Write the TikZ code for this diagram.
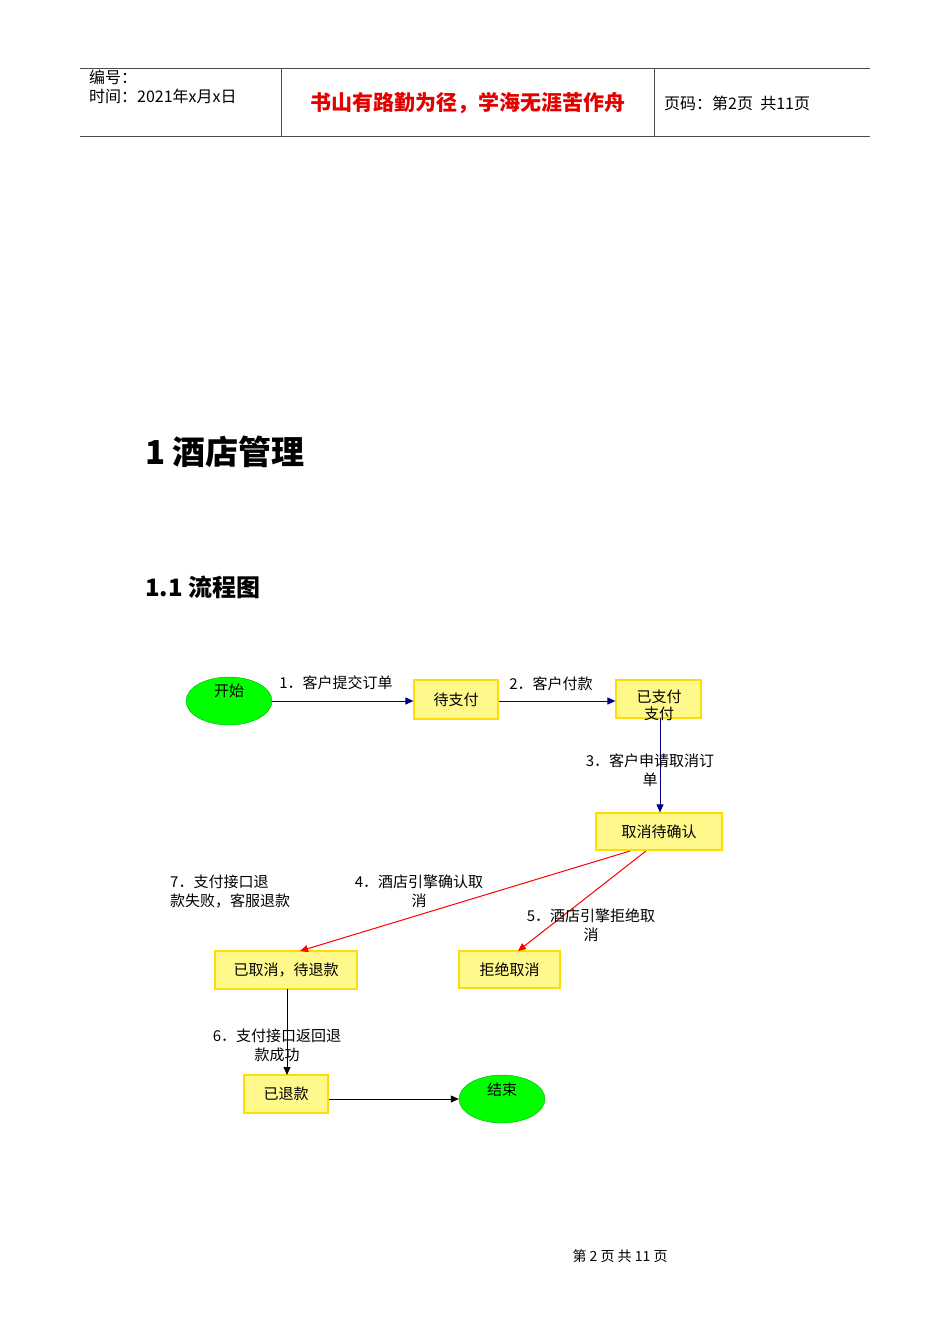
\documentclass[tikz,border=0pt]{standalone}
\usepackage{fontspec}
\setmainfont{Liberation Serif}
\newfontfamily\cjk{Noto Sans CJK SC}
\usetikzlibrary{shapes.geometric,arrows.meta}
\begin{document}
\begin{tikzpicture}[x=1pt,y=-1pt,
  st/.style={draw=yellow!80!orange,line width=1.2pt,fill=yellow!45,font=\cjk\fontsize{15}{17}\selectfont,inner sep=0pt},
  ov/.style={ellipse,fill=green,draw=green!70!black,minimum width=86pt,minimum height=48pt,inner sep=0pt},
  lb/.style={font=\cjk\fontsize{15}{19}\selectfont,align=center,inner sep=0pt},
  na/.style={draw=blue!50!black,line width=1pt,-{Triangle[length=8pt,width=7pt]}},
  ra/.style={draw=red,line width=1pt,-{Triangle[length=8pt,width=7pt]}},
  ba/.style={draw=black,line width=1pt,-{Triangle[length=8pt,width=7pt]}}]
\useasboundingbox (0,0) rectangle (950,1344);
\fill[white] (0,0) rectangle (950,1344);
% header
\draw[gray!60!black,line width=0.8pt] (80,68) -- (870,68);
\draw[gray!60!black,line width=1pt] (80,136) -- (870,136);
\draw[gray!60!black,line width=0.8pt] (281,68) -- (281,136) (654,68) -- (654,136);
\node[anchor=north west,align=left,font=\cjk\fontsize{16}{19}\selectfont,inner sep=0pt] (hd) at (89,70) {编号：\\时间：2021年x月x日};
\node[font=\cjk\bfseries\fontsize{21}{23}\selectfont,text=red!90!black] (motto) at (468,103) {书山有路勤为径，学海无涯苦作舟};
\node[anchor=west,font=\cjk\fontsize{16}{18}\selectfont,inner sep=0pt] (pg) at (664,103) {页码：第2页\ \ 共11页};
% titles
\node[anchor=west,font=\cjk\bfseries\fontsize{33}{36}\selectfont,inner sep=0pt] (t1) at (145,452) {1 酒店管理};
\node[anchor=west,font=\cjk\bfseries\fontsize{24}{26}\selectfont,inner sep=0pt] (t2) at (145,587) {1.1 流程图};
% nodes
\node[ov] (start) at (229,701) {};
\node[lb] at (229,691) {开始};
\node[st,minimum width=84pt,minimum height=39pt] (dzf) at (456,699.5) {待支付};
\node[st,minimum width=85pt,minimum height=38pt] (yzf) at (658.5,699) {};
\node[lb,font=\cjk\fontsize{15}{17}\selectfont] at (659,705) {已支付\\支付};
\node[st,minimum width=126pt,minimum height=37pt] (qx) at (659,831.5) {取消待确认};
\node[st,minimum width=142pt,minimum height=38pt] (yqx) at (286,970) {已取消，待退款};
\node[st,minimum width=101pt,minimum height=37pt] (jj) at (509.5,969.5) {拒绝取消};
\node[st,minimum width=84pt,minimum height=38pt] (ytk) at (286,1094) {已退款};
\node[ov] (end) at (502,1099) {};
\node[lb] at (502,1090) {结束};
% edges
\draw[na] (start.east |- 0,701) -- (dzf.west |- 0,701);
\draw[na] (dzf.east |- 0,701) -- (yzf.west |- 0,701);
\draw[na] (660,718) -- (qx.north -| 660,0);
\draw[ra] (630,851) -- (300,951);
\draw[ra] (646,851) -- (518,951);
\draw[ba] (287,989) -- (287,1075);
\draw[ba] (ytk.east |- end) -- (end);
% labels
\node[lb] at (336,683) {1．客户提交订单};
\node[lb] at (551,684) {2．客户付款};
\node[lb] at (650,770) {3．客户申请取消订\\单};
\node[lb] at (419,891) {4．酒店引擎确认取\\消};
\node[lb] at (591,925) {5．酒店引擎拒绝取\\消};
\node[lb,align=left,anchor=west] at (170,891) {7．支付接口退\\款失败，客服退款};
\node[lb] at (277,1045) {6．支付接口返回退\\款成功};
% footer
\node[font=\cjk\fontsize{14}{16}\selectfont] (ft) at (620,1256) {第 2 页 共 11 页};
\end{tikzpicture}
\end{document}
